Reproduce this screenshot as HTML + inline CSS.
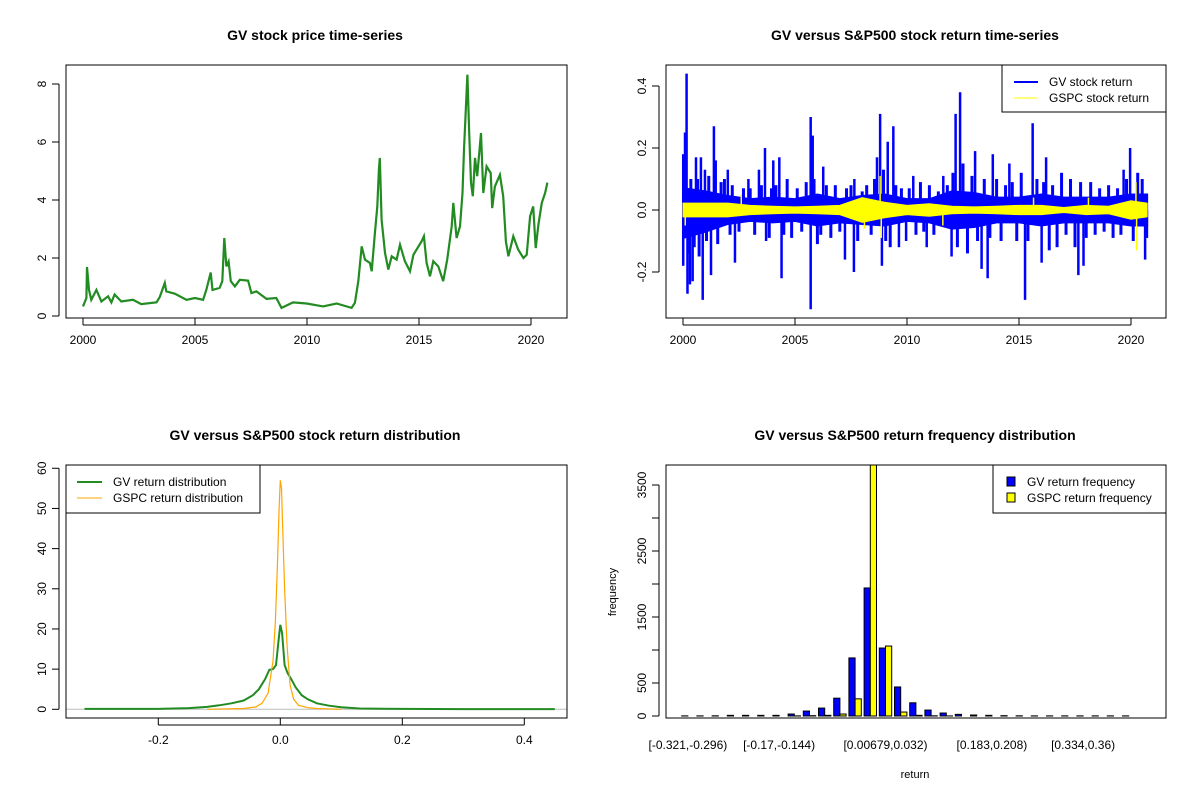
<!DOCTYPE html>
<html><head><meta charset="utf-8"><style>
body{margin:0;background:#fff}
svg{font-family:"Liberation Sans",Arial,sans-serif;display:block}
</style></head><body>
<svg id="c" width="1200" height="800" viewBox="0 0 1200 800" xmlns="http://www.w3.org/2000/svg"></svg>
<script>
// ---- Panel 1: price
const priceYears=[0.0,0.15,0.18,0.27,0.37,0.6,0.82,1.12,1.27,1.41,1.71,2.23,2.6,3.28,3.43,3.65,3.72,4.1,4.62,5.0,5.36,5.51,5.7,5.78,6.1,6.22,6.31,6.4,6.5,6.6,6.78,7.0,7.37,7.52,7.74,8.19,8.63,8.86,9.38,9.98,10.72,11.32,11.99,12.14,12.29,12.44,12.59,12.81,12.89,13.03,13.14,13.21,13.25,13.33,13.48,13.63,13.78,14.0,14.15,14.37,14.6,14.75,15.11,15.22,15.34,15.49,15.64,15.86,16.08,16.26,16.46,16.53,16.68,16.83,16.94,17.01,17.09,17.16,17.24,17.32,17.4,17.5,17.6,17.77,17.87,18.02,18.2,18.27,18.39,18.61,18.76,18.88,18.99,19.21,19.43,19.66,19.81,19.96,20.1,20.21,20.33,20.48,20.63,20.73];
const priceValues=[0.33,0.62,1.69,0.9,0.56,0.9,0.5,0.68,0.47,0.74,0.5,0.56,0.41,0.47,0.66,1.14,0.85,0.77,0.56,0.62,0.56,0.91,1.5,0.9,0.97,1.2,2.69,1.71,1.88,1.2,1.02,1.25,1.22,0.79,0.85,0.59,0.62,0.28,0.47,0.43,0.33,0.43,0.28,0.45,1.2,2.4,1.94,1.83,1.54,2.86,3.78,5.05,5.45,3.32,2.18,1.6,2.06,1.94,2.46,1.89,1.54,2.11,2.57,2.75,1.83,1.37,1.89,1.71,1.2,1.94,3.09,3.9,2.69,3.09,4.24,5.74,7.11,8.32,6.31,4.6,4.13,5.45,4.82,6.31,4.24,5.16,4.93,3.72,4.47,4.87,4.13,2.57,2.06,2.75,2.29,2.0,2.11,3.44,3.78,2.34,3.15,3.9,4.24,4.6];
const yearTicks=[2000,2005,2010,2015,2020];
const priceTicks=[0,2,4,6,8];
// ---- Panel 2: returns
const bandYears=[0,1,2,3,4,5,6,7,8,9,10,11,12,13,14,15,16,17,18,19,20,20.72];
const gvBandHi=[0.07,0.06,0.045,0.035,0.04,0.035,0.05,0.035,0.045,0.05,0.035,0.035,0.06,0.055,0.04,0.04,0.05,0.04,0.04,0.04,0.05,0.05];
const gvBandLo=[-0.09,-0.07,-0.045,-0.035,-0.04,-0.035,-0.05,-0.04,-0.045,-0.05,-0.035,-0.04,-0.06,-0.055,-0.04,-0.04,-0.05,-0.04,-0.04,-0.04,-0.05,-0.05];
const spYears=[0.16,0.09,0.01,0.01,0.2,0.31,0.43,0.58,0.8,0.88,0.98,1.25,1.38,1.46,2.0,2.32,2.92,3.39,3.66,3.71,4.03,4.3,4.4,5.7,5.7,5.79,6.26,7.23,7.63,7.65,8.66,8.8,8.88,9.14,9.39,9.64,9.96,10.28,10.88,11.62,11.99,12.17,12.37,13.04,13.33,13.6,13.83,14.57,15.27,15.61,16.01,16.21,17.65,17.88,19.67,19.96,20.63];
const spValues=[0.44,0.25,0.18,-0.18,-0.27,-0.24,-0.23,0.17,0.17,-0.29,0.13,-0.21,0.27,0.16,0.13,-0.17,0.10,0.13,0.2,-0.1,0.16,0.17,-0.22,0.30,-0.32,0.24,0.14,-0.16,-0.2,0.1,0.17,0.31,-0.18,0.22,0.27,-0.12,-0.1,0.11,-0.12,0.11,-0.15,0.31,0.38,0.19,-0.19,-0.22,0.18,0.15,-0.29,0.28,-0.17,0.17,-0.21,-0.18,0.13,0.2,-0.16];
const midYears=[0.05,0.25,0.35,0.5,0.65,0.72,1.05,1.15,1.55,1.7,1.85,2.1,2.2,2.5,2.7,3.0,3.2,3.5,3.85,3.95,4.15,4.5,4.65,4.85,5.1,5.3,5.5,5.85,6.0,6.15,6.4,6.6,6.8,7.0,7.3,7.5,7.8,8.0,8.2,8.4,8.55,8.95,9.05,9.25,9.5,9.75,10.1,10.4,10.6,10.75,11.0,11.2,11.4,11.8,12.05,12.25,12.5,12.7,12.9,13.15,13.45,13.7,14.0,14.2,14.4,14.7,14.9,15.1,15.4,15.8,16.1,16.35,16.5,16.7,16.9,17.1,17.3,17.5,17.75,18.0,18.2,18.4,18.6,18.8,19.0,19.2,19.4,19.55,19.8,20.1,20.3,20.5,20.7];
const midValues=[0.12,-0.14,0.1,-0.12,0.1,-0.15,-0.1,0.11,-0.11,0.09,0.1,-0.08,0.08,-0.07,0.07,0.07,-0.08,0.08,-0.09,0.07,0.08,-0.08,0.1,-0.09,0.07,-0.07,0.09,0.1,-0.11,-0.08,0.08,-0.09,0.08,-0.07,0.07,0.08,-0.1,0.06,0.08,-0.08,0.1,0.13,-0.1,-0.12,0.08,0.07,0.07,-0.08,0.09,-0.07,0.08,-0.08,0.06,0.08,0.12,-0.12,0.15,-0.14,0.11,-0.1,0.1,-0.09,0.1,-0.1,0.08,0.09,-0.1,0.12,-0.1,0.1,0.09,-0.13,0.08,-0.12,0.12,-0.08,0.1,-0.12,0.09,-0.09,0.09,-0.08,0.07,-0.07,0.08,-0.09,0.07,-0.08,0.1,-0.1,0.12,0.1,-0.09];
const spxBandHi=[0.022,0.022,0.022,0.015,0.012,0.01,0.012,0.015,0.04,0.025,0.015,0.02,0.012,0.01,0.012,0.015,0.015,0.008,0.015,0.012,0.03,0.022];
const spxBandLo=[-0.022,-0.022,-0.022,-0.015,-0.012,-0.01,-0.012,-0.015,-0.04,-0.025,-0.015,-0.02,-0.012,-0.01,-0.012,-0.015,-0.015,-0.008,-0.015,-0.012,-0.03,-0.022];
const spxSpYears=[8.8,8.85,20.25,20.22,0.1,2.6,8.1,11.6,15.65,18.1];
const spxSpValues=[0.11,-0.09,-0.13,0.09,-0.05,0.05,-0.06,-0.05,0.04,0.04];
const retTicks=[-0.2,0.0,0.2,0.4];
const retTickLabels=["-0.2","0.0","0.2","0.4"];
// ---- Panel 3: density
const gvDenX=[-0.321,-0.2,-0.15,-0.12,-0.1,-0.08,-0.06,-0.045,-0.035,-0.025,-0.018,-0.012,-0.007,-0.003,0,0.003,0.007,0.012,0.018,0.025,0.035,0.045,0.06,0.08,0.1,0.13,0.2,0.3,0.45];
const gvDenY=[0.1,0.1,0.3,0.6,1,1.5,2.2,3.5,5,7.5,9.8,10,11,17,21,19,11,9,7.5,5.5,3.5,2.5,1.5,0.9,0.5,0.2,0.1,0.05,0.05];
const spxDenX=[-0.12,-0.06,-0.04,-0.03,-0.02,-0.012,-0.008,-0.005,-0.002,0,0.002,0.004,0.007,0.011,0.016,0.022,0.03,0.045,0.06,0.1];
const spxDenY=[0,0.2,0.6,1.5,4,12,22,35,50,57,55,45,30,16,6,2.5,1,0.4,0.2,0];
const denXTicks=[-0.2,0.0,0.2,0.4];
const denYTicks=[0,10,20,30,40,50,60];
// ---- Panel 4: histogram
const binLabels=["[-0.321,-0.296)","","","","","","[-0.17,-0.144)","","","","","","","[0.00679,0.032)","","","","","","","[0.183,0.208)","","","","","","[0.334,0.36)","","",""];
const gvFreq=[2,2,3,10,10,10,10,30,75,120,270,880,1940,1030,440,200,90,45,25,15,10,5,3,2,2,2,2,2,2,2];
const spxFreq=[0,0,0,0,0,0,0,2,5,10,30,260,4100,1060,60,10,3,1,0,0,0,0,0,0,0,0,0,0,0,0];
const freqTicks=[0,500,1000,1500,2000,2500,3000,3500];
const freqLabels=["0","500","","1500","","2500","","3500"];

const S=document.getElementById('c');const NS='http://www.w3.org/2000/svg';
function mk(tag,a,name,parent){const e=document.createElementNS(NS,tag);for(const k in a)e.setAttribute(k,a[k]);


(parent||S).appendChild(e);return e;}
function txt(x,y,s,name,o){o=o||{};const a={x:x,y:y,'font-size':o.fs||12,'text-anchor':o.anchor||'middle',fill:'#000'};
if(o.bold)a['font-weight']='bold';if(o.rot)a.transform='rotate(-90 '+x+' '+y+')';const e=mk('text',a,name);e.textContent=s;return e;}
function box(x0,y0,x1,y1,name){mk('rect',{x:x0,y:y0,width:x1-x0,height:y1-y0,fill:'none',stroke:'#000','stroke-width':1},name);}
function clip(id,x0,y0,x1,y1){const d=mk('clipPath',{id:id},'clip');mk('rect',{x:x0,y:y0,width:x1-x0,height:y1-y0},'clip-rect',d);}

// Panel 1
(function(){const X=y=>83+y*22.4,Y=v=>316-v*29;
txt(315,40,'GV stock price time-series','title-price',{bold:1,fs:14});
clip('c1',66,65,567,318);
const d=priceYears.map((t,i)=>(i?'L':'M')+X(t).toFixed(1)+' '+Y(priceValues[i]).toFixed(1)).join('');
mk('path',{d:d,fill:'none',stroke:'#228B22','stroke-width':2.2,'clip-path':'url(#c1)'},'price-line');
box(66,65,567,318,'plot-frame-price');
yearTicks.forEach(y=>{const x=X(y-2000);mk('line',{x1:x,x2:x,y1:318,y2:325,stroke:'#000'},'x-tick');txt(x,344,String(y),'x-tick-label');});
mk('line',{x1:59,x2:59,y1:Y(0),y2:Y(8),stroke:'#000'},'y-axis-line');
priceTicks.forEach(v=>{const y=Y(v);mk('line',{x1:52,x2:59,y1:y,y2:y,stroke:'#000'},'y-tick');txt(46,y,String(v),'y-tick-label',{rot:1});});
mk('line',{x1:X(0),x2:X(20),y1:325,y2:325,stroke:'#000'},'x-axis-line');
})();

// Panel 2
(function(){const X=t=>683+t*22.4,Y=v=>210-v*310;
txt(915,40,'GV versus S&P500 stock return time-series','title-returns',{bold:1,fs:14});
clip('c2',666,65,1166,318);
const g=mk('g',{'clip-path':'url(#c2)'},'returns-series');
let p=bandYears.map((t,i)=>(i?'L':'M')+X(t)+' '+Y(gvBandHi[i])).join('')+bandYears.slice().reverse().map((t,i)=>'L'+X(t)+' '+Y(gvBandLo[bandYears.length-1-i])).join('')+'Z';
mk('path',{d:p,fill:'#0000FF',stroke:'#0000FF','stroke-width':2},'gv-return-band',g);
midYears.forEach((t,i)=>{mk('line',{x1:X(t),x2:X(t),y1:Y(0),y2:Y(midValues[i]),stroke:'#0000FF','stroke-width':3},'gv-return-mid-spike',g);});
spYears.forEach((t,i)=>{mk('line',{x1:X(t),x2:X(t),y1:Y(0),y2:Y(spValues[i]),stroke:'#0000FF','stroke-width':2.5},'gv-return-spike',g);});
p=bandYears.map((t,i)=>(i?'L':'M')+X(t)+' '+Y(spxBandHi[i])).join('')+bandYears.slice().reverse().map((t,i)=>'L'+X(t)+' '+Y(spxBandLo[bandYears.length-1-i])).join('')+'Z';
mk('path',{d:p,fill:'#FFFF00',stroke:'#FFFF00','stroke-width':1},'gspc-return-band',g);
spxSpYears.forEach((t,i)=>{mk('line',{x1:X(t),x2:X(t),y1:Y(0),y2:Y(spxSpValues[i]),stroke:'#FFFF00','stroke-width':1.5},'gspc-return-spike',g);});
box(666,65,1166,318,'plot-frame-returns');
yearTicks.forEach(y=>{const x=X(y-2000);mk('line',{x1:x,x2:x,y1:318,y2:325,stroke:'#000'},'x-tick');txt(x,344,String(y),'x-tick-label');});
mk('line',{x1:X(0),x2:X(20),y1:325,y2:325,stroke:'#000'},'x-axis-line');
mk('line',{x1:659,x2:659,y1:Y(-0.2),y2:Y(0.4),stroke:'#000'},'y-axis-line');
retTicks.forEach((v,i)=>{const y=Y(v);mk('line',{x1:652,x2:659,y1:y,y2:y,stroke:'#000'},'y-tick');txt(646,y,retTickLabels[i],'y-tick-label',{rot:1});});
mk('rect',{x:1002,y:65,width:164,height:47,fill:'#fff',stroke:'#000'},'legend-returns');
mk('line',{x1:1014,x2:1038,y1:82,y2:82,stroke:'#0000FF','stroke-width':2},'legend-gv-swatch');
txt(1049,86,'GV stock return','legend-gv-label',{anchor:'start'});
mk('line',{x1:1014,x2:1038,y1:98,y2:98,stroke:'#FFFF00','stroke-width':1},'legend-gspc-swatch');
txt(1049,102,'GSPC stock return','legend-gspc-label',{anchor:'start'});
})();

// Panel 3
(function(){const X=v=>280.3+v*610,Y=v=>709.3-v*4.017;
txt(315,440,'GV versus S&P500 stock return distribution','title-density',{bold:1,fs:14});
clip('c3',66,465,567,718);
const g=mk('g',{'clip-path':'url(#c3)'},'density-series');
mk('line',{x1:66,x2:567,y1:Y(0),y2:Y(0),stroke:'#BEBEBE'},'zero-line',g);
mk('path',{d:gvDenX.map((x,i)=>(i?'L':'M')+X(x).toFixed(1)+' '+Y(gvDenY[i]).toFixed(1)).join(''),fill:'none',stroke:'#228B22','stroke-width':2},'gv-density-line',g);
mk('path',{d:spxDenX.map((x,i)=>(i?'L':'M')+X(x).toFixed(1)+' '+Y(spxDenY[i]).toFixed(1)).join(''),fill:'none',stroke:'#FFA500','stroke-width':1.2},'gspc-density-line',g);
box(66,465,567,718,'plot-frame-density');
mk('line',{x1:X(-0.2),x2:X(0.4),y1:725,y2:725,stroke:'#000'},'x-axis-line');
denXTicks.forEach(v=>{const x=X(v);mk('line',{x1:x,x2:x,y1:718,y2:725,stroke:'#000'},'x-tick');txt(x,744,v.toFixed(1),'x-tick-label');});
mk('line',{x1:59,x2:59,y1:Y(0),y2:Y(60),stroke:'#000'},'y-axis-line');
denYTicks.forEach(v=>{const y=Y(v);mk('line',{x1:52,x2:59,y1:y,y2:y,stroke:'#000'},'y-tick');txt(46,y,String(v),'y-tick-label',{rot:1});});
mk('rect',{x:66,y:465,width:194,height:48,fill:'#fff',stroke:'#000'},'legend-density');
mk('line',{x1:77,x2:102,y1:482,y2:482,stroke:'#228B22','stroke-width':2},'legend-gv-swatch');
txt(113,486,'GV return distribution','legend-gv-label',{anchor:'start'});
mk('line',{x1:77,x2:102,y1:498,y2:498,stroke:'#FFA500','stroke-width':1},'legend-gspc-swatch');
txt(113,502,'GSPC return distribution','legend-gspc-label',{anchor:'start'});
})();

// Panel 4
(function(){const Y=v=>716-v*0.066,BW=6.2,GS=15.2,X0=681.7;
txt(915,440,'GV versus S&P500 return frequency distribution','title-histogram',{bold:1,fs:14});
clip('c4',666,465,1166,718);
const g=mk('g',{'clip-path':'url(#c4)'},'histogram-bars');
gvFreq.forEach((v,i)=>{const x=X0+i*GS;mk('rect',{x:x,y:Y(v),width:BW,height:v*0.066,fill:'#0000FF',stroke:'#000','stroke-width':1},'bar-gv-'+i,g);
const s=spxFreq[i];mk('rect',{x:x+BW,y:Y(s),width:BW,height:s*0.066,fill:'#FFFF00',stroke:'#000','stroke-width':1},'bar-gspc-'+i,g);});
box(666,465,1166,718,'plot-frame-histogram');
binLabels.forEach((l,i)=>{if(l)txt(X0+i*GS+BW,749,l,'x-bin-label');});
mk('line',{x1:659,x2:659,y1:Y(0),y2:Y(3500),stroke:'#000'},'y-axis-line');
freqTicks.forEach((v,i)=>{const y=Y(v);mk('line',{x1:652,x2:659,y1:y,y2:y,stroke:'#000'},'y-tick');if(freqLabels[i])txt(646,y,freqLabels[i],'y-tick-label',{rot:1});});
txt(616,592,'frequency','y-axis-title',{rot:1,fs:11});
txt(915,778,'return','x-axis-title',{fs:11});
mk('rect',{x:993,y:465,width:173,height:48,fill:'#fff',stroke:'#000'},'legend-histogram');
mk('rect',{x:1007,y:477,width:8,height:9,fill:'#0000FF',stroke:'#000'},'legend-gv-swatch');
txt(1027,486,'GV return frequency','legend-gv-label',{anchor:'start'});
mk('rect',{x:1007,y:493,width:8,height:9,fill:'#FFFF00',stroke:'#000'},'legend-gspc-swatch');
txt(1027,502,'GSPC return frequency','legend-gspc-label',{anchor:'start'});
})();
</script>
</body></html>
